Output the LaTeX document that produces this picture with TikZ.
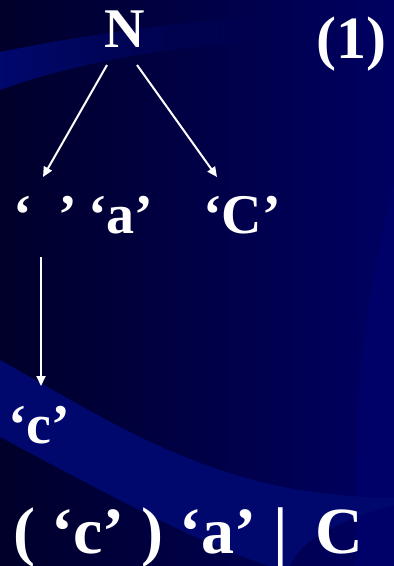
\documentclass[tikz,border=0pt]{standalone}
\usepackage{fontspec}
\setmainfont{Liberation Serif}
\usetikzlibrary{arrows.meta,fadings}
\definecolor{bgL}{RGB}{0,0,42}
\definecolor{bgR}{RGB}{0,0,98}
\definecolor{band}{RGB}{0,8,110}
\definecolor{bandR}{RGB}{0,1,104}
\begin{document}
\begin{tikzpicture}[x=1pt,y=-1pt,
  txt/.style={text=white,font=\bfseries\fontsize{56}{56}\selectfont,inner sep=0pt,anchor=base west},
  big/.style={txt,font=\bfseries\fontsize{66}{66}\selectfont},
  arr/.style={draw=white,line width=2pt,-{Triangle[length=10pt,width=9pt]}}]
\useasboundingbox (0,0) rectangle (394,566);
\fill[left color=bgL,right color=bgR] (0,0) rectangle (394,566);
% top band
\fill[band,path fading=east] (0,52) .. controls (60,40) and (150,24) .. (260,17)
  -- (260,42) .. controls (150,48) and (60,68) .. (0,90) -- cycle;
% right band
\fill[bandR] (394,185) .. controls (375,260) and (362,330) .. (358,420)
  -- (355,566) -- (394,566) -- cycle;
% lower band
\fill[band] (0,360) .. controls (90,410) and (180,470) .. (300,490)
  .. controls (340,496) and (370,498) .. (394,498)
  -- (394,505) .. controls (340,520) and (300,540) .. (290,566)
  -- (270,566) .. controls (200,545) and (100,490) .. (0,437) -- cycle;
% text
\node[txt,anchor=base] (N) at (125,47) {N};
\node[txt,font=\bfseries\fontsize{60}{60}\selectfont] (one) at (316,58) {(1)};
\node[txt] (q1) at (13,233) {‘};
\node[txt] (q2) at (58,233) {’};
\node[txt] (a) at (88,233) {‘a’};
\node[txt] (C) at (203,233) {‘C’};
\node[txt] (c) at (8,443) {‘c’};
\node[big] (res) at (13,553) {( ‘c’ ) ‘a’ |\, C};
% connectors
\coordinate (nl) at (107,65);
\coordinate (nr) at (137,65);
\coordinate (tl) at (43,177);
\coordinate (tr) at (217,177);
\coordinate (vs) at (41,257);
\coordinate (ve) at (41,386);
\draw[arr] (nl) -- (tl);
\draw[arr] (nr) -- (tr);
\draw[arr] (vs) -- (ve);
\end{tikzpicture}
\end{document}
